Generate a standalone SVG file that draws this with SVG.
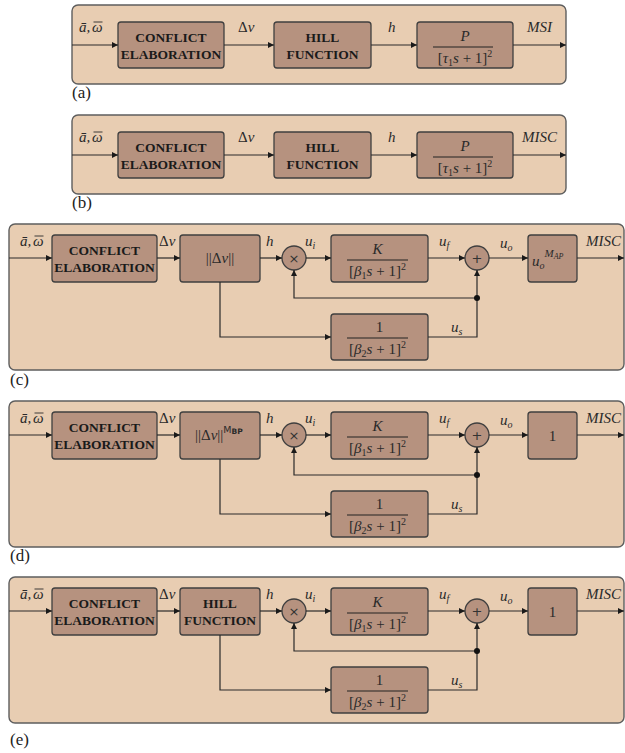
<svg xmlns="http://www.w3.org/2000/svg" width="625" height="753" viewBox="0 0 625 753">
  <defs>
    <marker id="arr" viewBox="0 0 10 10" refX="10" refY="5" markerWidth="6" markerHeight="6" orient="auto" markerUnits="userSpaceOnUse">
      <path d="M0,0 L10,5 L0,10 z" fill="#1a1a1a"/>
    </marker>
    <style>
      .panel { fill: #e8cdb2; stroke: #5e5e5e; stroke-width: 1.4; }
      .blk { fill: #b6927f; stroke: #3f3f3f; stroke-width: 1.3; }
      .op { fill: #b6927f; stroke: #3f3f3f; stroke-width: 1.3; }
      .wire { fill: none; stroke: #2a2a2a; stroke-width: 1.2; }
      .arrow { marker-end: url(#arr); }
      .bar { stroke: #222; stroke-width: 1.1; }
      .ovl { stroke: #2a2a2a; stroke-width: 0.9; }
      .bold { font-family: "Liberation Serif", "Times New Roman", serif; font-weight: bold; font-size: 13.5px; fill: #1a1a1a; text-anchor: middle; }
      .math { font-family: "Liberation Serif", "Times New Roman", serif; font-style: italic; font-size: 15px; fill: #2a2a2a; }
      .mid { text-anchor: middle; }
      .up { font-style: normal; }
      .cap { font-family: "Liberation Serif", "Times New Roman", serif; font-size: 17px; fill: #222; }
      .sym { font-family: "DejaVu Sans", sans-serif; font-size: 13px; fill: #333; text-anchor: middle; }
    </style>
  </defs>

  <!-- ===== (a) open loop: conflict -> Hill -> second-order lag -> MSI ===== -->
  <g id="panel-a">
    <rect class="panel" x="72" y="5" width="494" height="79" rx="6"/>
    <g id="a-conflict">
      <rect class="blk" x="118" y="22" width="106" height="46" rx="3"/>
      <text class="bold" x="171" y="42">CONFLICT</text>
      <text class="bold" x="171" y="59">ELABORATION</text>
    </g>
    <g id="a-hill">
      <rect class="blk" x="274" y="22" width="97" height="46" rx="3"/>
      <text class="bold" x="322.5" y="42">HILL</text>
      <text class="bold" x="322.5" y="59">FUNCTION</text>
    </g>
    <g id="a-plant">
      <rect class="blk" x="417" y="22" width="96" height="46" rx="3"/>
      <text class="math mid" x="465" y="41">P</text>
      <line class="bar" x1="433" y1="47" x2="493" y2="47"/>
      <text class="math mid" x="465" y="63"><tspan class="up">[</tspan>τ<tspan font-size="10" class="up" dy="3">1</tspan><tspan dy="-3">s</tspan><tspan class="up"> + 1]</tspan><tspan font-size="10" class="up" dy="-6">2</tspan></text>
    </g>
    <g id="a-connectors">
      <line class="wire arrow" x1="72" y1="45" x2="118" y2="45"/>
      <line class="wire arrow" x1="224" y1="45" x2="274" y2="45"/>
      <line class="wire arrow" x1="371" y1="45" x2="417" y2="45"/>
      <line class="wire arrow" x1="513" y1="45" x2="566" y2="45"/>
    </g>
    <text class="math" x="79" y="32">ā,</text>
    <text class="math" x="92" y="32">ω</text>
    <line class="ovl" x1="93.5" y1="22" x2="102.5" y2="22"/>
    <text class="math" x="238" y="32"><tspan class="up">Δ</tspan>v</text>
    <text class="math" x="388" y="32">h</text>
    <text class="math" x="527" y="32" font-size="13.5">MSI</text>
    <text class="cap" x="72" y="98">(a)</text>
  </g>

  <!-- ===== (b) same chain, output MISC ===== -->
  <g id="panel-b">
    <rect class="panel" x="72" y="115" width="494" height="79" rx="6"/>
    <g id="b-conflict">
      <rect class="blk" x="118" y="132" width="106" height="46" rx="3"/>
      <text class="bold" x="171" y="152">CONFLICT</text>
      <text class="bold" x="171" y="169">ELABORATION</text>
    </g>
    <g id="b-hill">
      <rect class="blk" x="274" y="132" width="97" height="46" rx="3"/>
      <text class="bold" x="322.5" y="152">HILL</text>
      <text class="bold" x="322.5" y="169">FUNCTION</text>
    </g>
    <g id="b-plant">
      <rect class="blk" x="417" y="132" width="96" height="46" rx="3"/>
      <text class="math mid" x="465" y="151">P</text>
      <line class="bar" x1="433" y1="157" x2="493" y2="157"/>
      <text class="math mid" x="465" y="173"><tspan class="up">[</tspan>τ<tspan font-size="10" class="up" dy="3">1</tspan><tspan dy="-3">s</tspan><tspan class="up"> + 1]</tspan><tspan font-size="10" class="up" dy="-6">2</tspan></text>
    </g>
    <g id="b-connectors">
      <line class="wire arrow" x1="72" y1="155" x2="118" y2="155"/>
      <line class="wire arrow" x1="224" y1="155" x2="274" y2="155"/>
      <line class="wire arrow" x1="371" y1="155" x2="417" y2="155"/>
      <line class="wire arrow" x1="513" y1="155" x2="566" y2="155"/>
    </g>
    <text class="math" x="79" y="142">ā,</text>
    <text class="math" x="92" y="142">ω</text>
    <line class="ovl" x1="93.5" y1="132" x2="102.5" y2="132"/>
    <text class="math" x="238" y="142"><tspan class="up">Δ</tspan>v</text>
    <text class="math" x="388" y="142">h</text>
    <text class="math" x="522" y="142" font-size="13.5">MISC</text>
    <text class="cap" x="72" y="208">(b)</text>
  </g>

  <!-- ===== (c) fast/slow pathway model with norm and M_AP output ===== -->
  <g id="panel-c">
    <rect class="panel" x="9" y="224" width="615" height="146" rx="6"/>
    <g id="c-conflict">
      <rect class="blk" x="52" y="235" width="105" height="47" rx="3"/>
      <text class="bold" x="104.5" y="255">CONFLICT</text>
      <text class="bold" x="104.5" y="272">ELABORATION</text>
    </g>
    <g id="c-norm">
      <rect class="blk" x="180" y="235" width="80" height="47" rx="3"/>
      <text class="math mid" x="220" y="263"><tspan class="up">||Δ</tspan>v<tspan class="up">||</tspan></text>
    </g>
    <g id="c-mul">
      <circle class="op" cx="294" cy="258" r="12"/>
      <text class="sym" x="294" y="262.5">×</text>
    </g>
    <g id="c-fast">
      <rect class="blk" x="331" y="235" width="97" height="47" rx="3"/>
      <text class="math mid" x="377.5" y="254">K</text>
      <line class="bar" x1="347" y1="260" x2="408" y2="260"/>
      <text class="math mid" x="377.5" y="276"><tspan class="up">[</tspan>β<tspan font-size="10" class="up" dy="3">1</tspan><tspan dy="-3">s</tspan><tspan class="up"> + 1]</tspan><tspan font-size="10" class="up" dy="-6">2</tspan></text>
    </g>
    <g id="c-sum">
      <circle class="op" cx="477" cy="258" r="12"/>
      <text class="sym" x="477" y="263">+</text>
    </g>
    <g id="c-map">
      <rect class="blk" x="528" y="235" width="49" height="47" rx="3"/>
      <text class="math" x="532" y="266">u<tspan font-size="10" dy="3">o</tspan><tspan font-size="11" dy="-12">M</tspan><tspan font-size="8" dy="2">AP</tspan></text>
    </g>
    <g id="c-slow">
      <rect class="blk" x="331" y="314" width="97" height="46" rx="3"/>
      <text class="math mid up" x="379.5" y="332">1</text>
      <line class="bar" x1="347" y1="338" x2="408" y2="338"/>
      <text class="math mid" x="377.5" y="354"><tspan class="up">[</tspan>β<tspan font-size="10" class="up" dy="3">2</tspan><tspan dy="-3">s</tspan><tspan class="up"> + 1]</tspan><tspan font-size="10" class="up" dy="-6">2</tspan></text>
    </g>
    <g id="c-connectors">
      <line class="wire arrow" x1="9" y1="258" x2="52" y2="258"/>
      <line class="wire arrow" x1="157" y1="258" x2="180" y2="258"/>
      <line class="wire arrow" x1="260" y1="258" x2="282" y2="258"/>
      <line class="wire arrow" x1="306" y1="258" x2="331" y2="258"/>
      <line class="wire arrow" x1="428" y1="258" x2="465" y2="258"/>
      <line class="wire arrow" x1="489" y1="258" x2="528" y2="258"/>
      <line class="wire arrow" x1="577" y1="258" x2="624" y2="258"/>
      <polyline class="wire arrow" points="220,282 220,337 331,337"/>
      <polyline class="wire arrow" points="428,337 477,337 477,270"/>
      <polyline class="wire arrow" points="477,298 294,298 294,270"/>
      <circle cx="477" cy="298" r="3" fill="#111"/>
    </g>
    <text class="math" x="20" y="246">ā,</text>
    <text class="math" x="33" y="246">ω</text>
    <line class="ovl" x1="34.5" y1="236" x2="43.5" y2="236"/>
    <text class="math" x="159" y="246"><tspan class="up">Δ</tspan>v</text>
    <text class="math" x="266" y="246">h</text>
    <text class="math" x="305" y="246">u<tspan font-size="10" dy="3">i</tspan></text>
    <text class="math" x="439" y="246">u<tspan font-size="10" dy="3">f</tspan></text>
    <text class="math" x="500" y="248">u<tspan font-size="10" dy="3">o</tspan></text>
    <text class="math" x="586" y="246" font-size="13.5">MISC</text>
    <text class="math" x="451" y="332">u<tspan font-size="10" dy="3">s</tspan></text>
    <text class="cap" x="10" y="385">(c)</text>
  </g>

  <!-- ===== (d) power-law norm, unit output ===== -->
  <g id="panel-d" transform="translate(0,177)">
    <rect class="panel" x="9" y="224" width="615" height="146" rx="6"/>
    <g id="d-conflict">
      <rect class="blk" x="52" y="235" width="105" height="47" rx="3"/>
      <text class="bold" x="104.5" y="255">CONFLICT</text>
      <text class="bold" x="104.5" y="272">ELABORATION</text>
    </g>
    <g id="d-norm">
      <rect class="blk" x="180" y="235" width="80" height="47" rx="3"/>
      <text class="math" x="195" y="263"><tspan class="up">||Δ</tspan>v<tspan class="up">||</tspan><tspan class="up" font-family="DejaVu Sans, sans-serif" font-size="9.5" dy="-7">M</tspan><tspan class="up" font-family="DejaVu Sans, sans-serif" font-size="7.5" font-weight="bold" dy="1">BP</tspan></text>
    </g>
    <g id="d-mul">
      <circle class="op" cx="294" cy="258" r="12"/>
      <text class="sym" x="294" y="262.5">×</text>
    </g>
    <g id="d-fast">
      <rect class="blk" x="331" y="235" width="97" height="47" rx="3"/>
      <text class="math mid" x="377.5" y="254">K</text>
      <line class="bar" x1="347" y1="260" x2="408" y2="260"/>
      <text class="math mid" x="377.5" y="276"><tspan class="up">[</tspan>β<tspan font-size="10" class="up" dy="3">1</tspan><tspan dy="-3">s</tspan><tspan class="up"> + 1]</tspan><tspan font-size="10" class="up" dy="-6">2</tspan></text>
    </g>
    <g id="d-sum">
      <circle class="op" cx="477" cy="258" r="12"/>
      <text class="sym" x="477" y="263">+</text>
    </g>
    <g id="d-gain">
      <rect class="blk" x="528" y="235" width="49" height="47" rx="3"/>
      <text class="math mid up" x="552.5" y="264">1</text>
    </g>
    <g id="d-slow">
      <rect class="blk" x="331" y="314" width="97" height="46" rx="3"/>
      <text class="math mid up" x="379.5" y="332">1</text>
      <line class="bar" x1="347" y1="338" x2="408" y2="338"/>
      <text class="math mid" x="377.5" y="354"><tspan class="up">[</tspan>β<tspan font-size="10" class="up" dy="3">2</tspan><tspan dy="-3">s</tspan><tspan class="up"> + 1]</tspan><tspan font-size="10" class="up" dy="-6">2</tspan></text>
    </g>
    <g id="d-connectors">
      <line class="wire arrow" x1="9" y1="258" x2="52" y2="258"/>
      <line class="wire arrow" x1="157" y1="258" x2="180" y2="258"/>
      <line class="wire arrow" x1="260" y1="258" x2="282" y2="258"/>
      <line class="wire arrow" x1="306" y1="258" x2="331" y2="258"/>
      <line class="wire arrow" x1="428" y1="258" x2="465" y2="258"/>
      <line class="wire arrow" x1="489" y1="258" x2="528" y2="258"/>
      <line class="wire arrow" x1="577" y1="258" x2="624" y2="258"/>
      <polyline class="wire arrow" points="220,282 220,337 331,337"/>
      <polyline class="wire arrow" points="428,337 477,337 477,270"/>
      <polyline class="wire arrow" points="477,298 294,298 294,270"/>
      <circle cx="477" cy="298" r="3" fill="#111"/>
    </g>
    <text class="math" x="20" y="246">ā,</text>
    <text class="math" x="33" y="246">ω</text>
    <line class="ovl" x1="34.5" y1="236" x2="43.5" y2="236"/>
    <text class="math" x="159" y="246"><tspan class="up">Δ</tspan>v</text>
    <text class="math" x="266" y="246">h</text>
    <text class="math" x="305" y="246">u<tspan font-size="10" dy="3">i</tspan></text>
    <text class="math" x="439" y="246">u<tspan font-size="10" dy="3">f</tspan></text>
    <text class="math" x="500" y="248">u<tspan font-size="10" dy="3">o</tspan></text>
    <text class="math" x="586" y="246" font-size="13.5">MISC</text>
    <text class="math" x="451" y="332">u<tspan font-size="10" dy="3">s</tspan></text>
    <text class="cap" x="10" y="384">(d)</text>
  </g>

  <!-- ===== (e) Hill function input, unit output ===== -->
  <g id="panel-e" transform="translate(0,353)">
    <rect class="panel" x="9" y="224" width="615" height="146" rx="6"/>
    <g id="e-conflict">
      <rect class="blk" x="52" y="235" width="105" height="47" rx="3"/>
      <text class="bold" x="104.5" y="255">CONFLICT</text>
      <text class="bold" x="104.5" y="272">ELABORATION</text>
    </g>
    <g id="e-hill">
      <rect class="blk" x="180" y="235" width="80" height="47" rx="3"/>
      <text class="bold" x="220" y="255">HILL</text>
      <text class="bold" x="220" y="272">FUNCTION</text>
    </g>
    <g id="e-mul">
      <circle class="op" cx="294" cy="258" r="12"/>
      <text class="sym" x="294" y="262.5">×</text>
    </g>
    <g id="e-fast">
      <rect class="blk" x="331" y="235" width="97" height="47" rx="3"/>
      <text class="math mid" x="377.5" y="254">K</text>
      <line class="bar" x1="347" y1="260" x2="408" y2="260"/>
      <text class="math mid" x="377.5" y="276"><tspan class="up">[</tspan>β<tspan font-size="10" class="up" dy="3">1</tspan><tspan dy="-3">s</tspan><tspan class="up"> + 1]</tspan><tspan font-size="10" class="up" dy="-6">2</tspan></text>
    </g>
    <g id="e-sum">
      <circle class="op" cx="477" cy="258" r="12"/>
      <text class="sym" x="477" y="263">+</text>
    </g>
    <g id="e-gain">
      <rect class="blk" x="528" y="235" width="49" height="47" rx="3"/>
      <text class="math mid up" x="552.5" y="264">1</text>
    </g>
    <g id="e-slow">
      <rect class="blk" x="331" y="314" width="97" height="46" rx="3"/>
      <text class="math mid up" x="379.5" y="332">1</text>
      <line class="bar" x1="347" y1="338" x2="408" y2="338"/>
      <text class="math mid" x="377.5" y="354"><tspan class="up">[</tspan>β<tspan font-size="10" class="up" dy="3">2</tspan><tspan dy="-3">s</tspan><tspan class="up"> + 1]</tspan><tspan font-size="10" class="up" dy="-6">2</tspan></text>
    </g>
    <g id="e-connectors">
      <line class="wire arrow" x1="9" y1="258" x2="52" y2="258"/>
      <line class="wire arrow" x1="157" y1="258" x2="180" y2="258"/>
      <line class="wire arrow" x1="260" y1="258" x2="282" y2="258"/>
      <line class="wire arrow" x1="306" y1="258" x2="331" y2="258"/>
      <line class="wire arrow" x1="428" y1="258" x2="465" y2="258"/>
      <line class="wire arrow" x1="489" y1="258" x2="528" y2="258"/>
      <line class="wire arrow" x1="577" y1="258" x2="624" y2="258"/>
      <polyline class="wire arrow" points="220,282 220,337 331,337"/>
      <polyline class="wire arrow" points="428,337 477,337 477,270"/>
      <polyline class="wire arrow" points="477,298 294,298 294,270"/>
      <circle cx="477" cy="298" r="3" fill="#111"/>
    </g>
    <text class="math" x="20" y="246">ā,</text>
    <text class="math" x="33" y="246">ω</text>
    <line class="ovl" x1="34.5" y1="236" x2="43.5" y2="236"/>
    <text class="math" x="159" y="246"><tspan class="up">Δ</tspan>v</text>
    <text class="math" x="266" y="246">h</text>
    <text class="math" x="305" y="246">u<tspan font-size="10" dy="3">i</tspan></text>
    <text class="math" x="439" y="246">u<tspan font-size="10" dy="3">f</tspan></text>
    <text class="math" x="500" y="248">u<tspan font-size="10" dy="3">o</tspan></text>
    <text class="math" x="586" y="246" font-size="13.5">MISC</text>
    <text class="math" x="451" y="332">u<tspan font-size="10" dy="3">s</tspan></text>
    <text class="cap" x="10" y="392">(e)</text>
  </g>
</svg>
